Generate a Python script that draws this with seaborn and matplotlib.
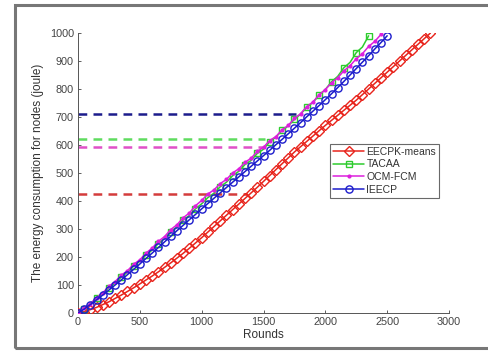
import matplotlib
matplotlib.use("Agg")
import matplotlib.pyplot as plt
from matplotlib.patches import Rectangle
import seaborn as sns
import pandas as pd

# Energy consumed by the network (joule) against simulation rounds
rounds_eecpk = list(range(0, 2851, 50))
energy_eecpk = [0, 5, 12, 20, 30, 40, 52, 64, 77, 90, 104, 118, 132, 147, 163, 179,
                196, 213, 231, 250, 269, 289, 309, 329, 349, 369, 389, 409, 429, 449,
                470, 491, 512, 533, 554, 575, 594, 613, 632, 651, 670, 688, 706, 724,
                742, 760, 780, 800, 820, 840, 860, 880, 900, 920, 940, 960, 980, 1000]

rounds_tacaa = list(range(0, 2351, 50))
energy_tacaa = [0, 16, 34, 52, 70, 91, 107, 128, 146, 167, 185, 207, 225, 248, 266, 290,
                308, 332, 348, 372, 390, 412, 428, 451, 467, 490, 506, 530, 545, 570,
                585, 612, 628, 652, 668, 692, 710, 735, 752, 778, 798, 826, 845, 876,
                895, 930, 950, 990]

rounds_ocm = list(range(0, 2451, 50))
energy_ocm = [0, 18, 33, 55, 72, 95, 112, 135, 151, 174, 190, 214, 232, 256, 273, 298,
              315, 340, 357, 383, 402, 425, 440, 462, 477, 500, 515, 538, 553, 577,
              592, 616, 630, 654, 670, 695, 712, 737, 754, 779, 798, 822, 840, 865,
              883, 908, 926, 952, 970, 995]

rounds_ieecp = list(range(0, 2501, 50))
energy_ieecp = [0, 14, 30, 47, 64, 82, 100, 118, 137, 156, 175, 195, 214, 234, 254, 274,
                294, 313, 333, 352, 372, 391, 410, 429, 448, 467, 486, 505, 524, 543,
                562, 581, 601, 620, 640, 660, 680, 701, 721, 741, 762, 783, 805, 827,
                850, 873, 896, 919, 943, 966, 990]

# Reference energy levels and the round where each level line stops
ref_levels = [424, 622, 593, 712]
ref_ends = [1365, 1510, 1510, 1760]
ref_colors = ["#d43c3c", "#5fdc5f", "#e050c8", "#1c1c8c"]

sns.set_theme(style="white")
plt.rcParams["font.family"] = ["Liberation Sans", "DejaVu Sans"]

fig = plt.figure(figsize=(4.88, 3.51), dpi=100)
fig.patches.append(Rectangle((15 / 488, 3 / 351), 1.2, 343 / 351, transform=fig.transFigure,
                             fill=False, edgecolor="#777777", linewidth=2.2))
ax = fig.add_axes([78 / 488, 38 / 351, 371 / 488, 280 / 351])

for lvl, end, col in zip(ref_levels, ref_ends, ref_colors):
    ref = pd.DataFrame({"x": [0, end], "y": [lvl, lvl]})
    sns.lineplot(data=ref, x="x", y="y", ax=ax, color=col, linestyle=(0, (3.5, 2.5)),
                 linewidth=1.8, zorder=1)

series = [
    ("EECPK-means", rounds_eecpk, energy_eecpk, "#e8241c", "D", 5.2, 1),
    ("TACAA", rounds_tacaa, energy_tacaa, "#2ecc2e", "s", 4.6, (1, 2)),
    ("OCM-FCM", rounds_ocm, energy_ocm, "#dd1fdd", ".", 4.0, 1),
    ("IEECP", rounds_ieecp, energy_ieecp, "#1c1ccc", "o", 5.2, 1),
]
for name, xs, ys, col, mk, ms, every in series:
    df = pd.DataFrame({"Rounds": xs, "Energy": ys})
    sns.lineplot(data=df, x="Rounds", y="Energy", ax=ax, color=col, marker=mk,
                 markersize=ms, markerfacecolor="none" if mk != "." else col,
                 markeredgecolor=col, markeredgewidth=1.0, linewidth=1.1,
                 markevery=every, label=name, zorder=3)

ax.set_xlim(0, 3000)
ax.set_ylim(0, 1000)
ax.set_xticks([0, 500, 1000, 1500, 2000, 2500, 3000])
ax.set_yticks(range(0, 1001, 100))
ax.tick_params(direction="in", length=2.5, width=0.6, labelsize=7.8,
               colors="#444444", pad=3, bottom=True, left=True)
for s in ["top", "right"]:
    ax.spines[s].set_visible(False)
for s in ["left", "bottom"]:
    ax.spines[s].set_color("#555555")
    ax.spines[s].set_linewidth(0.7)
ax.set_xlabel("Rounds", fontsize=8.5, color="#333333", labelpad=1)
ax.set_ylabel("The energy consumption for nodes (joule)", fontsize=8.5,
              color="#333333", labelpad=4)
ax.grid(False)

leg = ax.legend(loc="upper left", bbox_to_anchor=(0.679, 0.605), fontsize=7.5,
                frameon=True, fancybox=False, borderpad=0.3, labelspacing=0.25,
                handlelength=3.0, handletextpad=0.2, borderaxespad=0)
leg.get_frame().set_edgecolor("#444444")
leg.get_frame().set_linewidth(0.8)
for t in leg.get_texts():
    t.set_color("#333333")

fig.savefig("out.png", dpi=100)
